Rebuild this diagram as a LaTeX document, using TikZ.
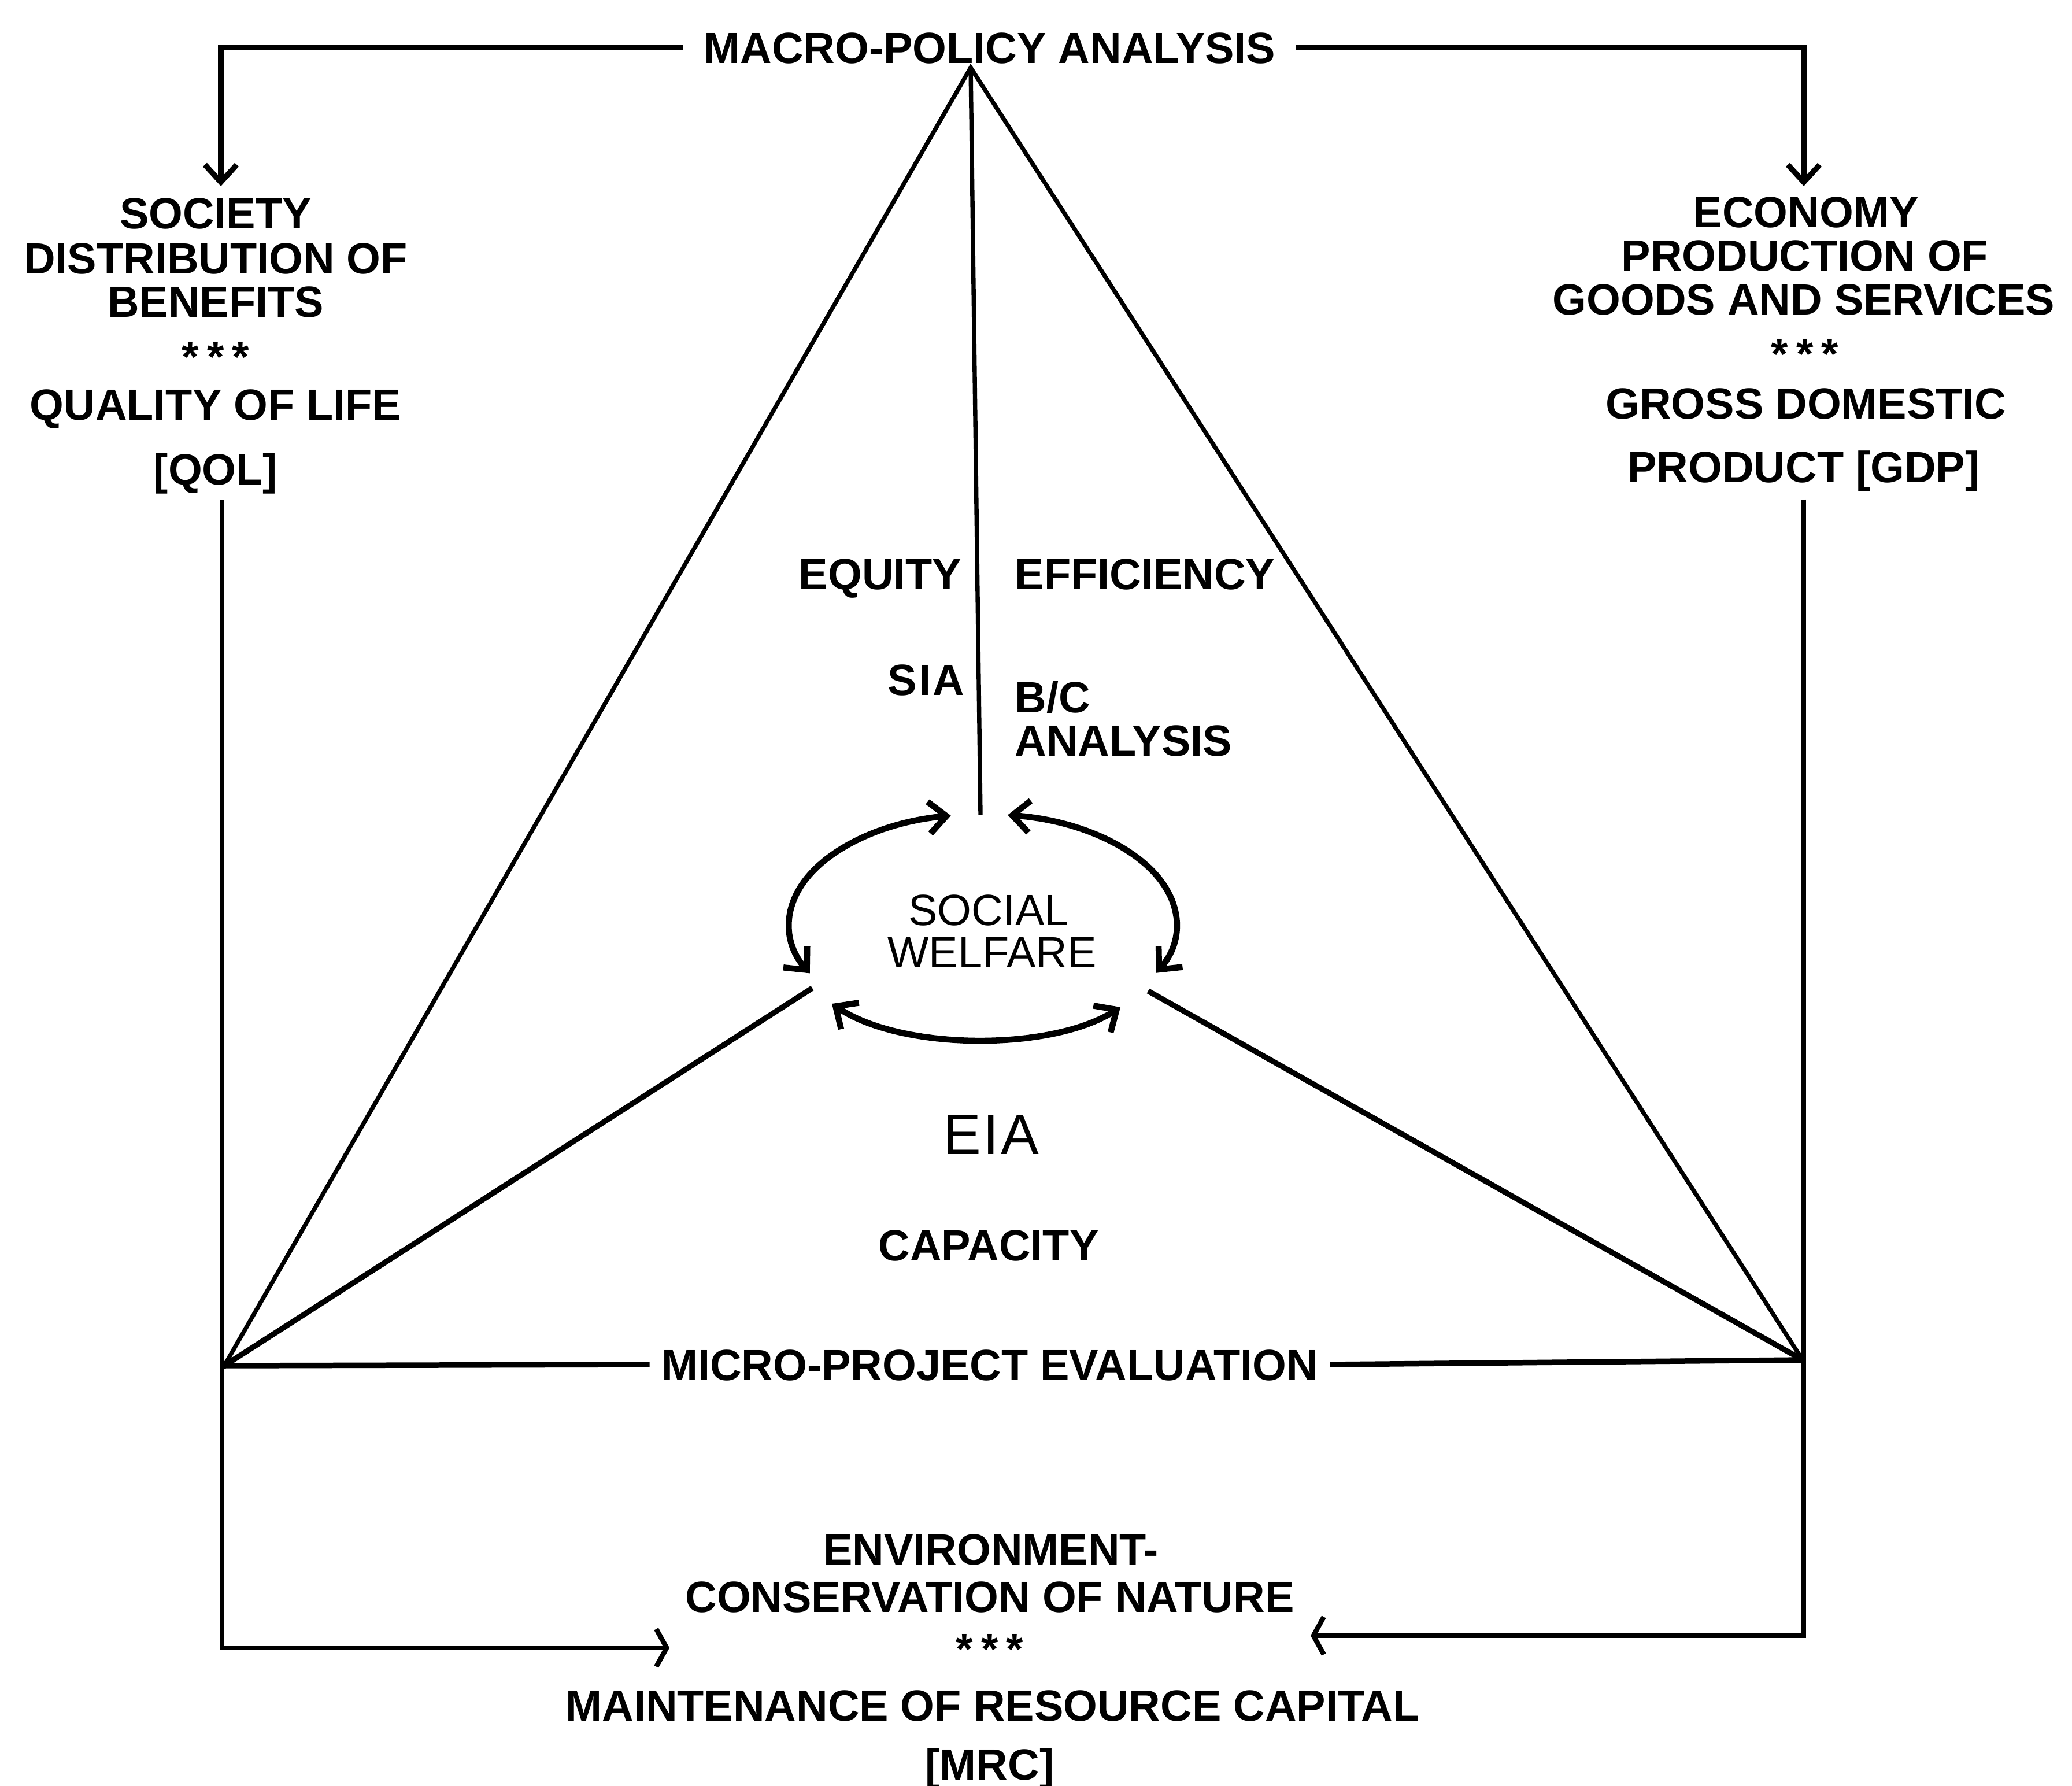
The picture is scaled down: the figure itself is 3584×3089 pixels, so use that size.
\documentclass[tikz,border=0pt]{standalone}
\usepackage{fontspec}
\setmainfont{Liberation Sans}
\usetikzlibrary{arrows.meta,calc}
\begin{document}
\begin{tikzpicture}[x=0.01cm,y=0.01cm,
  lbl/.style={font=\fontsize{21.5}{22}\selectfont\bfseries, inner sep=0pt, text height=15.4pt, text depth=0pt},
  lblr/.style={font=\fontsize{21.5}{22}\selectfont, inner sep=0pt, text height=15.4pt, text depth=0pt},
  big/.style={font=\fontsize{28}{30}\selectfont, inner sep=0pt, text height=20pt, text depth=0pt},
  thinline/.style={line width=2.1pt},
  heavyline/.style={line width=2.7pt},
  loopline/.style={line width=3pt, {Straight Barb[length=0.3cm,width=0.55cm]}-{Straight Barb[length=0.3cm,width=0.55cm]}},
  downtip/.style={-{Straight Barb[length=0.3cm,width=0.55cm]}},
  sidetip/.style={-{Straight Barb[length=0.18cm,width=0.65cm]}},
]
\useasboundingbox (0,0) rectangle (3584,-3089);

% ---- top heading and the two side blocks
\node[lbl, inner xsep=0.35cm] (macro) at (1712,-82) {MACRO-POLICY ANALYSIS};

\node[lbl] (soc1) at (373,-368) {SOCIETY};
\node[lbl] (soc2) at (373,-446) {DISTRIBUTION OF};
\node[lbl] (soc3) at (373,-521) {BENEFITS};
\node[lbl] (soc4) at (373,-616) {*\hspace{4pt}*\hspace{4pt}*};
\node[lbl] (soc5) at (373,-699) {QUALITY OF LIFE};
\node[lbl] (soc6) at (373,-811) {[QOL]};

\node[lbl] (eco1) at (3124,-366) {ECONOMY};
\node[lbl] (eco2) at (3122,-441) {PRODUCTION OF};
\node[lbl] (eco3) at (3120,-517) {GOODS AND SERVICES};
\node[lbl] (eco4) at (3122,-611) {*\hspace{4pt}*\hspace{4pt}*};
\node[lbl] (eco5) at (3124,-697) {GROSS DOMESTIC};
\node[lbl] (eco6) at (3120,-807) {PRODUCT [GDP]};

% ---- labels inside the triangle
\node[lbl, anchor=east] (equity) at (1664,-992) {EQUITY};
\node[lbl, anchor=west] (effic) at (1755,-992) {EFFICIENCY};
\node[lbl, anchor=east] (sia) at (1669,-1175) {S\hspace{1pt}I\hspace{1pt}A};
\node[lbl, anchor=west] (bc) at (1755,-1205) {B/C};
\node[lbl, anchor=west] (bca) at (1755,-1280) {ANALYSIS};

\node[lblr] (sw1) at (1710,-1573) {SOCIAL};
\node[lblr] (sw2) at (1716,-1646) {WELFARE};

\node[big] (eia) at (1714,-1961) {E\hspace{1pt}I\hspace{1pt}A};
\node[lbl] (cap) at (1710,-2153) {CAPACITY};

\node[lbl, inner xsep=0.2cm] (micro) at (1712,-2360) {MICRO-PROJECT EVALUATION};

% ---- bottom block
\node[lbl] (env1) at (1714,-2679) {ENVIRONMENT-};
\node[lbl] (env2) at (1712,-2761) {CONSERVATION OF NATURE};
\node[lbl] (env3) at (1712,-2851) {*\hspace{4pt}*\hspace{4pt}*};
\node[lbl] (env4) at (1717,-2949) {MAINTENANCE OF RESOURCE CAPITAL};
\node[lbl] (env5) at (1712,-3051) {[MRC]};

% ---- geometry points
\coordinate (apex) at (1679,-117);
\coordinate (bl) at (388,-2362);
\coordinate (br) at (3118,-2352);
\coordinate (hub) at (1696,-1409);
\coordinate (lin) at (1405,-1709);
\coordinate (rin) at (1986,-1714);
\coordinate (socin) at (382,-322);
\coordinate (ecoin) at (3120,-322);
\coordinate (qolout) at (384,-864);
\coordinate (gdpout) at (3120,-864);
\coordinate (mrcl) at (1158,-2850);
\coordinate (mrcr) at (2267,-2829);
\coordinate (swc) at (1700,-1598);
\coordinate (la) at ($(swc)+(99.5:335 and 190)$);
\coordinate (ra) at ($(swc)+(82.6:335 and 190)$);
\coordinate (lb) at (1439,-1736);
\coordinate (rb) at (1938,-1742);

% ---- connectors
\draw[heavyline,downtip] (macro.west) -| (socin);
\draw[heavyline,downtip] (macro.east) -| (ecoin);
\draw[thinline,line join=miter] (bl) -- (apex) -- (br);
\draw[thinline] (apex) -- (hub);
\draw[heavyline] (bl) -- (lin);
\draw[heavyline] (br) -- (rin);
\draw[heavyline] (bl) -- (micro.west);
\draw[heavyline] (micro.east) -- (br);
\draw[line width=2.4pt,sidetip] (qolout) |- (mrcl);
\draw[line width=2.4pt,sidetip] (gdpout) |- (mrcr);

% ---- the three two-way loops round social welfare
\draw[loopline] (la) arc[start angle=99.5, end angle=206.7, x radius=335, y radius=190];
\draw[loopline] (ra) arc[start angle=82.6, end angle=-26.5, x radius=335, y radius=190];
\draw[loopline] (lb) .. controls (1560,-1818) and (1820,-1818) .. (rb);
\end{tikzpicture}
\end{document}
